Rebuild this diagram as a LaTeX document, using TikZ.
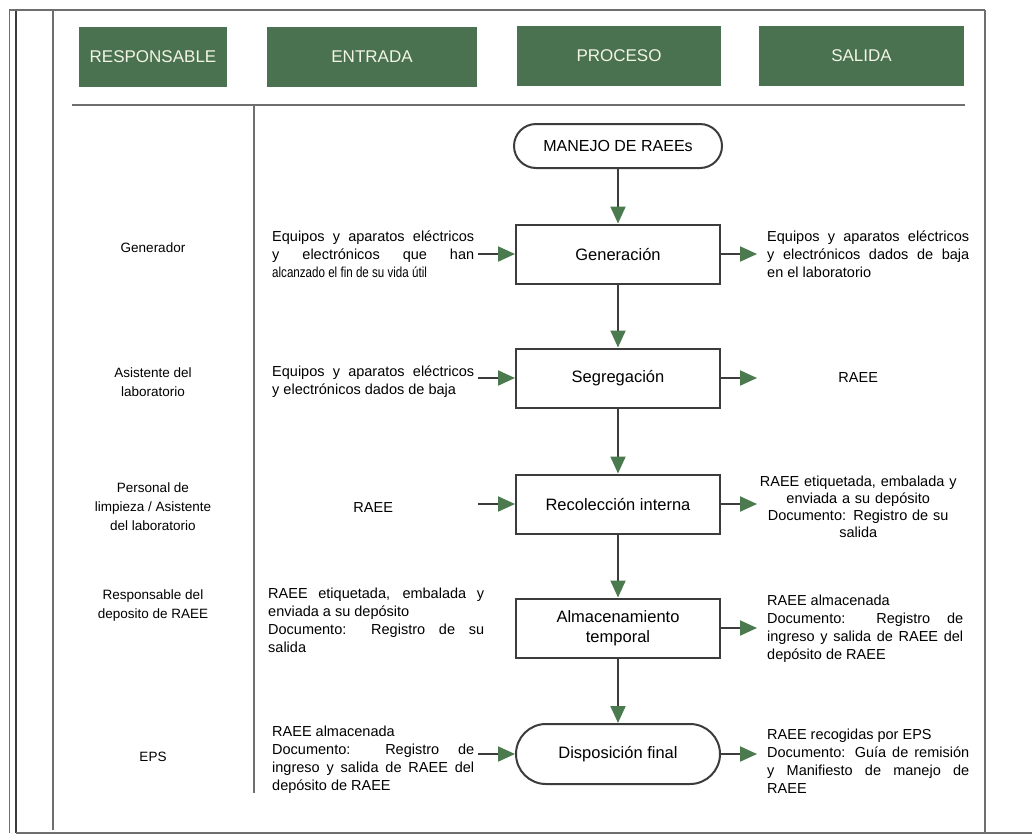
\documentclass[tikz,border=0pt]{standalone}
\usepackage{fontspec}
\setmainfont{Liberation Sans}
\newfontfamily\narrowfont{Liberation Sans}[FakeStretch=0.8]
\usetikzlibrary{arrows.meta}
\definecolor{hdrgreen}{HTML}{4B7250}
\definecolor{tipgreen}{HTML}{4A7A4E}
\definecolor{hdrtext}{HTML}{F2F5E6}
\definecolor{linegray}{HTML}{3C3C3C}
\definecolor{framegray}{HTML}{6E6E6E}
\begin{document}
\begin{tikzpicture}[x=1pt,y=-1pt,
  hdr/.style={fill=hdrgreen,text=hdrtext,minimum height=60pt,inner sep=0pt,font=\fontsize{17}{20}\selectfont},
  proc/.style={draw=linegray,line width=2pt,minimum width=204pt,minimum height=59pt,inner sep=2pt,align=center,font=\fontsize{16.5}{20}\selectfont},
  resp/.style={align=center,inner sep=0pt,font=\fontsize{13.5}{19}\selectfont},
  intext/.style={text width=202pt,inner sep=0pt,align=justify,font=\fontsize{14.5}{18}\selectfont},
  flow/.style={draw=linegray,line width=2pt,-{Triangle[length=17pt,width=15pt,color=tipgreen]}},
  frame/.style={draw=framegray,line width=1.2pt}
]
\useasboundingbox (0,0) rectangle (1032,836);
\fill[white] (0,0) rectangle (1032,836);
% frame
\draw[frame,line width=0.8pt] (9,10) -- (9,833);
\draw[frame,draw=linegray,line width=2pt] (16,10) -- (16,833);
\draw[frame] (53,10) -- (53,830);
\draw[frame] (9,10) -- (985,10);
\draw[frame] (985,10) -- (985,833);
\draw[frame] (16,833) -- (1032,833);
\draw[frame] (72,105) -- (965,105);
\draw[frame] (254,105) -- (254,793);
% headers
\node[hdr,minimum width=148pt] (h1) at (153,57) {RESPONSABLE};
\node[hdr,minimum width=210pt] (h2) at (372,57) {ENTRADA};
\node[hdr,minimum width=204pt] (h3) at (619,56) {PROCESO};
\node[hdr,minimum width=205pt] (h4) at (861.5,56) {SALIDA};
% process
\node[proc,rounded corners=22pt,minimum height=44pt,minimum width=208pt,font=\fontsize{16}{19}\selectfont] (start) at (618,146) {MANEJO DE RAEEs};
\node[proc] (gen) at (618,254) {Generación};
\node[proc] (seg) at (618,378) {Segregación};
\node[proc] (rec) at (618,504) {Recolección interna};
\node[proc] (alm) at (618,628) {Almacenamiento\\temporal};
\node[proc,rounded corners=30pt,minimum height=60pt] (disp) at (618,754) {Disposición final};
% responsables
\node[resp] (r1) at (153,248) {Generador};
\node[resp] (r2) at (153,382) {Asistente del\\laboratorio};
\node[resp] (r3) at (153,507) {Personal de\\limpieza / Asistente\\del laboratorio};
\node[resp] (r4) at (153,605) {Responsable del\\deposito de RAEE};
\node[resp] (r5) at (153,757) {EPS};
% entradas
\node[intext,anchor=west] (i1) at (272,254) {Equipos y aparatos eléctricos\linebreak y electrónicos que han\linebreak {\narrowfont alcanzado el fin de su vida útil}};
\node[intext,anchor=west] (i2) at (272,382) {Equipos y aparatos eléctricos\linebreak y electrónicos dados de baja};
\node[intext,align=center,anchor=west] (i3) at (272,507) {RAEE};
\node[intext,text width=216pt,anchor=west] (i4) at (268,620) {RAEE etiquetada, embalada y\linebreak enviada a su depósito\\ Documento: Registro de su\linebreak salida};
\node[intext,anchor=west] (i5) at (272,760) {RAEE almacenada\\ Documento: Registro de\linebreak ingreso y salida de RAEE del\linebreak depósito de RAEE};
% salidas
\node[intext,anchor=west] (o1) at (767,254) {Equipos y aparatos eléctricos\linebreak y electrónicos dados de baja\linebreak en el laboratorio};
\node[intext,align=center,anchor=west] (o2) at (757,378) {RAEE};
\node[intext,align=center,anchor=west,font=\fontsize{14.5}{17}\selectfont] (o3) at (757,507) {RAEE etiquetada, embalada y\\ enviada a su depósito\\ Documento: Registro de su\\ salida};
\node[intext,text width=196pt,anchor=west] (o4) at (767,629) {RAEE almacenada\\ Documento: Registro de\linebreak ingreso y salida de RAEE del\linebreak depósito de RAEE};
\node[intext,anchor=west] (o5) at (767,761) {RAEE recogidas por EPS\\ Documento: Guía de remisión\linebreak y Manifiesto de manejo de\linebreak RAEE};
% vertical flow
\draw[flow] (start.south) -- (gen.north);
\draw[flow] (gen.south) -- (seg.north);
\draw[flow] (seg.south) -- (rec.north);
\draw[flow] (rec.south) -- (alm.north);
\draw[flow] (alm.south) -- (disp.north);
% inputs
\draw[flow,shorten <=4pt] (gen.west -| i1.east) -- (gen.west);
\draw[flow,shorten <=4pt] (seg.west -| i2.east) -- (seg.west);
\draw[flow,shorten <=4pt] (rec.west -| i3.east) -- (rec.west);
\draw[flow,shorten <=4pt] (disp.west -| i5.east) -- (disp.west);
% outputs
\draw[flow,shorten >=10pt] (gen.east) -- (gen.east -| o1.west);
\draw[flow] (seg.east) -- (seg.east -| o2.west);
\draw[flow] (rec.east) -- (rec.east -| o3.west);
\draw[flow,shorten >=10pt] (alm.east) -- (alm.east -| o4.west);
\draw[flow,shorten >=10pt] (disp.east) -- (disp.east -| o5.west);
\end{tikzpicture}
\end{document}
